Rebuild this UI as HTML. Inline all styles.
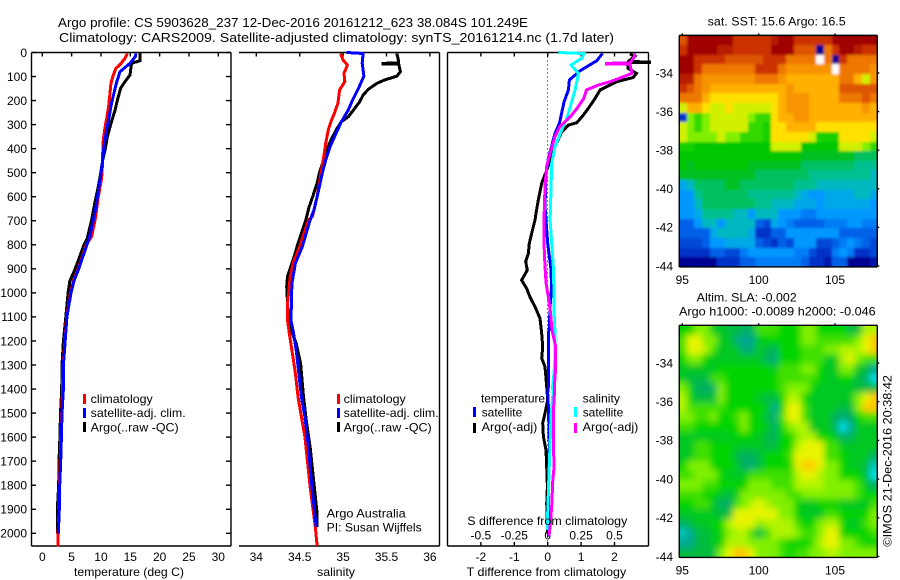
<!DOCTYPE html>
<html lang="en">
<head>
<meta charset="utf-8">
<title>Argo profile chart</title>
<style>
html,body{margin:0;padding:0;background:#fff;}
#chart{display:block;width:900px;height:580px;}
text{font-family:"Liberation Sans",Arial,sans-serif;font-size:12px;fill:#000;}
</style>
</head>
<body>
<svg id="chart" xmlns="http://www.w3.org/2000/svg" width="900" height="580" viewBox="0 0 900 580">
  <defs>
    <filter id="sst-smooth" filterUnits="userSpaceOnUse" x="660" y="15" width="240" height="275"><feGaussianBlur stdDeviation="1.2"/></filter>
    <filter id="sla-smooth" filterUnits="userSpaceOnUse" x="660" y="305" width="240" height="275"><feGaussianBlur stdDeviation="3.5"/></filter>
    <clipPath id="sst-clip"><rect x="679.3" y="35.3" width="198" height="231.7"/></clipPath>
    <clipPath id="sla-clip"><rect x="679.3" y="325.3" width="198" height="231.7"/></clipPath>
  </defs>
  <rect x="0" y="0" width="900" height="580" fill="#fff"/>
  <text x="58" y="27" textLength="470" lengthAdjust="spacingAndGlyphs" style="font-size:13px">Argo profile: CS 5903628_237 12-Dec-2016 20161212_623 38.084S 101.249E</text>
  <text x="59" y="42" textLength="555" lengthAdjust="spacingAndGlyphs" style="font-size:13px">Climatology: CARS2009. Satellite-adjusted climatology: synTS_20161214.nc (1.7d later)</text>

  <g id="marks"></g>

  <text x="74" y="576" textLength="110" lengthAdjust="spacingAndGlyphs">temperature (deg C)</text>
  <text x="317" y="576" textLength="38" lengthAdjust="spacingAndGlyphs">salinity</text>
  <text x="466.7" y="576" textLength="159.5" lengthAdjust="spacingAndGlyphs">T difference from climatology</text>
  <text x="467.3" y="525" textLength="160" lengthAdjust="spacingAndGlyphs">S difference from climatology</text>

  <g>
    <rect x="83" y="394" width="3" height="10" fill="#ff0000"/>
    <rect x="83" y="408" width="3" height="10" fill="#0000ff"/>
    <rect x="83" y="422" width="3" height="10" fill="#000"/>
    <text x="90.7" y="403" textLength="62" lengthAdjust="spacingAndGlyphs">climatology</text>
    <text x="90.7" y="417" textLength="95" lengthAdjust="spacingAndGlyphs">satellite-adj. clim.</text>
    <text x="90.7" y="431.5" textLength="88" lengthAdjust="spacingAndGlyphs">Argo(..raw -QC)</text>
  </g>
  <g>
    <rect x="337" y="394" width="3" height="10" fill="#ff0000"/>
    <rect x="337" y="408" width="3" height="10" fill="#0000ff"/>
    <rect x="337" y="422" width="3" height="10" fill="#000"/>
    <text x="343.7" y="403" textLength="62" lengthAdjust="spacingAndGlyphs">climatology</text>
    <text x="343.7" y="417" textLength="95" lengthAdjust="spacingAndGlyphs">satellite-adj. clim.</text>
    <text x="343.7" y="431.5" textLength="88" lengthAdjust="spacingAndGlyphs">Argo(..raw -QC)</text>
  </g>
  <text x="326.7" y="517.7" textLength="79" lengthAdjust="spacingAndGlyphs">Argo Australia</text>
  <text x="326.7" y="531.7" textLength="95" lengthAdjust="spacingAndGlyphs">PI: Susan Wijffels</text>

  <g>
    <text x="481" y="402.7" textLength="64" lengthAdjust="spacingAndGlyphs">temperature</text>
    <rect x="473" y="407" width="3" height="10" fill="#0000ff"/>
    <text x="481.7" y="416.7" textLength="40.6" lengthAdjust="spacingAndGlyphs">satellite</text>
    <rect x="473" y="423" width="3" height="10" fill="#000"/>
    <text x="481.7" y="431" textLength="55.6" lengthAdjust="spacingAndGlyphs">Argo(-adj)</text>
    <text x="582.7" y="402.7" textLength="37.3" lengthAdjust="spacingAndGlyphs">salinity</text>
    <rect x="574" y="407" width="3" height="10" fill="#00ffff"/>
    <text x="582.7" y="416.7" textLength="40.6" lengthAdjust="spacingAndGlyphs">satellite</text>
    <rect x="574" y="423" width="3" height="10" fill="#ff00ff"/>
    <text x="582.7" y="431" textLength="55.6" lengthAdjust="spacingAndGlyphs">Argo(-adj)</text>
  </g>

  <text x="707.7" y="25.7" textLength="138" lengthAdjust="spacingAndGlyphs">sat. SST: 15.6 Argo: 16.5</text>
  <text x="696.7" y="301.7" textLength="100" lengthAdjust="spacingAndGlyphs">Altim. SLA: -0.002</text>
  <text x="679" y="315.7" textLength="196.7" lengthAdjust="spacingAndGlyphs">Argo h1000: -0.0089 h2000: -0.046</text>
  <text transform="translate(891.7,546.7) rotate(-90)" textLength="171.7" lengthAdjust="spacingAndGlyphs">©IMOS 21-Dec-2016 20:38:42</text>
</svg>

<script>
// ---------- axis ticks ----------
const depthTicks = [0,100,200,300,400,500,600,700,800,900,1000,1100,1200,1300,1400,1500,1600,1700,1800,1900,2000];
const temperatureTicks = [0,5,10,15,20,25,30];
const salinityTicks = [34,34.5,35,35.5,36];
const salinityTickLabels = ['34','34.5','35','35.5','36'];
const tDiffTicks = [-2,-1,0,1,2];
const sDiffTicks = [-0.5,-0.25,0,0.25,0.5];
const sDiffTickLabels = ['-0.5','-0.25','0','0.25','0.5'];
const lonTicks = [95,100,105];
const latTicks = [-34,-36,-38,-40,-42,-44];

// ---------- temperature panel ----------
const tempClimDepth = [4,24,48,66,94,128,177,225,274,309,364,419,502,530,600,683,766,800,900,950,1000,1100,1200,1300,1400,1500,1600,1700,1800,1900,2000,2054];
const tempClimValues = [14.5,14.1,13.35,12.55,12.1,11.7,11.5,11.3,10.97,10.7,10.4,10.3,10.2,10.06,9.55,9.1,8.4,7.5,6.1,5.3,4.8,4.15,3.85,3.55,3.45,3.3,3.15,3.05,2.9,2.85,2.7,2.7];
const tempSatDepth = [4,17,45,80,121,170,211,267,322,392,447,502,558,641,697,773,800,900,950,1000,1100,1200,1300,1400,1500,1600,1700,1800,1900,2000];
const tempSatValues = [15.97,15.85,14.95,13.25,12.7,12.2,11.8,11.4,10.97,10.5,10.3,10,9.66,9.15,8.7,8,7.6,6.2,5.4,4.9,4.2,3.9,3.6,3.6,3.35,3.25,3.13,2.96,2.9,2.73];
const tempArgoDepth = [3,34,45,94,121,149,198,239,288,350,405,447,502,558,620,697,772,800,900,950,1000,1100,1200,1300,1400,1500,1600,1700,1800,1900,2000];
const tempArgoValues = [16.65,16.65,15.2,14.95,14.1,13.35,12.8,12.4,11.8,11.1,10.7,10.3,9.95,9.55,9,8.4,7.67,7.1,5.6,4.7,4.4,4,3.6,3.35,3.3,3.1,3,2.85,2.8,2.55,2.55];

// ---------- salinity panel ----------
const salClimDepth = [4,31,52,87,121,156,211,253,288,322,378,426,502,600,683,697,808,870,932,1044,1113,1169,1238,1335,1432,1515,1598,1806,1973,2052];
const salClimValues = [34.97,35,35.05,35.01,35.02,34.96,34.94,34.9,34.86,34.83,34.8,34.78,34.745,34.7,34.645,34.6,34.5,34.43,34.39,34.36,34.36,34.38,34.41,34.45,34.48,34.52,34.56,34.62,34.68,34.7];
const salSatDepth = [0,4,45,98,139,205,239,288,343,392,447,502,586,655,697,808,877,960,1113,1169,1238,1335,1432,1515,1640,1806,1973];
const salSatValues = [35.04,35.23,35.22,35.24,35.19,35.1,35.06,34.98,34.91,34.85,34.8,34.76,34.71,34.665,34.62,34.53,34.45,34.41,34.4,34.43,34.46,34.49,34.52,34.56,34.6,34.64,34.69];
const salArgoDepth = [4,38,44,45,47,48,80,98,114,128,153,177,205,239,267,288,316,357,405,454,496,544,600,641,697,794,857,932,974,1113,1155,1210,1293,1418,1515,1640,1778,1917,1973];
const salArgoValues = [35.62,35.64,35.64,35.46,35.46,35.64,35.66,35.62,35.48,35.39,35.29,35.23,35.19,35.12,35.06,34.98,34.93,34.87,34.81,34.77,34.73,34.7,34.65,34.61,34.57,34.48,34.43,34.36,34.35,34.37,34.4,34.46,34.51,34.54,34.57,34.62,34.66,34.7,34.7];

// ---------- difference panel ----------
const dtSatDepth = [4,34,76,114,156,205,295,336,440,502,641,697,794,891,974,1058,1141,1169,1390,1417,1473,1639,1750,2014];
const dtSatValues = [1.64,1.47,0.97,0.65,0.62,0.49,0.35,0.22,0.02,-0.05,-0.08,-0.05,0,0.09,0.12,0.07,0.05,0.02,0.02,0,0.02,0.05,0.02,0.02];
const dtArgoDepth = [6,15,38,39,41,42,66,87,104,121,156,191,232,260,292,302,330,392,489,544,614,669,697,752,794,836,870,905,947,982,1017,1058,1106,1169,1224,1272,1307,1390,1445,1501,1542,1598,1653,1722,1806,1875,1958,2000];
const dtArgoValues = [2.46,2.61,2.41,3.05,3.05,2.41,2.41,2.66,2.56,2.07,1.57,1.42,1.22,1.07,0.87,0.62,0.42,0.22,-0.03,-0.18,-0.28,-0.35,-0.38,-0.48,-0.55,-0.58,-0.66,-0.61,-0.78,-0.63,-0.53,-0.38,-0.23,-0.18,-0.15,-0.18,-0.08,-0.03,0,-0.08,-0.15,-0.13,-0.05,-0.03,-0.01,-0.03,-0.01,-0.01];
const dsSatDepth = [0,4,24,52,87,156,205,274,322,392,461,572,697,794,891,1003,1072,1169,1266,1335,1390,1417,1515,1639,1750,1917,1986];
const dsSatValues = [0.08,0.27,0.255,0.175,0.23,0.205,0.18,0.143,0.105,0.055,0.03,0.025,0.018,0.03,0.042,0.047,0.047,0.055,0.055,0.047,0.037,0.04,0.025,0.017,0.01,0,0];
const dsArgoDepth = [4,17,44,45,47,48,87,101,121,135,156,191,232,267,288,309,350,419,475,558,697,794,891,960,1017,1086,1155,1224,1307,1390,1417,1501,1625,1722,1778,1889,1972,2010];
const dsArgoValues = [0.65,0.65,0.615,0.44,0.44,0.615,0.63,0.565,0.47,0.38,0.29,0.27,0.22,0.17,0.13,0.09,0.055,0.018,-0.008,-0.02,-0.028,-0.028,-0.02,-0.012,0.005,0.022,0.032,0.06,0.06,0.05,0.05,0.042,0.042,0.048,0.038,0.03,0.018,0.01];

// ---------- sea surface temperature map (deg C, north to south) ----------
const sstRows = [
[19.5,21,21,21,21,21,21,20,20,20,20,20,20.5,21,21,20,20,20,20,20,21,21,21,21,21,21],
[20,21,21,21,21,20.5,20.5,20,20,20,20,20,21,21,21,19.5,19.5,19.5,9,19,20,21,21,20.5,20,20],
[21,21,20,20,20,20,19.5,19.5,19.5,19.5,19.5,20,20,20,19,19,19,19,null,19,9,20,19,19,19,19],
[21,21,20,19,19,19,19,19,19,19,20,20,20,19,18.5,18.5,18.5,18.5,18.5,18.5,null,19,19,19,19,18.5],
[20.5,20.5,19,18.5,18.5,18.5,18.5,18.5,18.5,18.5,19,19,19,18.5,18,18,18,18,18,18,18,19,19,18,17,18.5],
[20,19.5,19,18.5,18,18,18,18,18,18,18,18,18,18,18.5,18,18,18,18,18,18,19.5,19.5,19.5,19.5,19.5],
[19,19,19,18,17.5,17.5,17.5,17.5,17.5,17.5,17.5,17.5,17.5,18,18.5,18.5,18.5,18,18,18,18,19,19,19,19.5,19],
[17,18,18,17.5,17,17,17.5,17,17,17,17,17,17.5,18,18.5,18.5,18.5,18,18,18,18,18,18,18,18.5,18],
[10,16.5,16,16.5,17,17,17,17,17,16.5,16,16,17.5,18,18,18.5,18.5,18,18,18,18,18,18,18,18,18],
[17,16.5,16,16.5,17,17,17,17,17,16,16,15.5,17.5,17.5,18,18,18,18,17.5,17.5,17.5,17.5,17.5,17.5,17.5,17.5],
[17,16.5,16.5,16.5,16.5,17,16.5,16.5,16,16,16,15.5,17.5,17.5,17.5,17.5,17.5,17,15.5,15.5,15.5,17.5,17.5,17.5,17.5,17],
[15.5,15.5,15,15,15,15,15,15,15,15,15,15,17,17,17,17,15,15,15,15,15,17,17,17,16.5,16],
[15,15,15,15,15,15,15,15,15,15,15,15,15,15,15,15,14.5,14.5,14.5,14.5,14.5,14.5,14.5,14,14,14],
[15,14.5,15,15,15,15,15,15,15,14.5,14.5,14.5,14.5,14.5,14.5,14.5,14,14,14,14,14,14,14,13.5,13.5,13.5],
[14.5,14.5,14.5,14.5,14.5,14.5,14.5,14.5,14.5,14.5,14,14,14,14,14,14,14,13.5,13.5,13.5,13.5,13.5,13.5,13.5,13.5,13],
[12.5,13,14,14,14,14,14.5,14.5,14,14,14,14,14,14,14,13.5,13.5,13.5,13,13,13,13,13,13,13,13],
[12,12,13.5,14,14,14,14,14,14,13.5,13.5,13.5,13.5,13.5,13.5,13,12.5,12,12,12.5,12.5,12.5,12.5,13,13,12.5],
[12,12,13,14,14,14,14,14,14,14,13.5,13.5,13,13,13,12.5,12.5,12.5,12,12.5,12.5,12.5,12.5,12.5,12.5,12],
[12,12,12.5,13.5,13.5,13.5,13.5,13,13,12,13,13,13,12,12,12,11.5,11.5,12,12,12,12,12,12,12,12],
[11,11,12,13,13,12,13,13,13,13,11,10.5,12.5,12,11.5,11,11,11,11,11.5,11.5,11.5,12,12,11.5,11.5],
[11,11,11,11,12.5,13,13,13,13,12.5,10,10,11,11,12,12,12,12,12,12,12,11,11,11,11,11],
[10.5,10.5,10.5,11,12,12,12.5,12.5,12.5,12.5,11,10.5,10,11,10.5,12,12,12,10.5,10.5,11,11.5,12,11.5,11,10.5],
[10,10,10,10,11,11,10.5,10.5,11.5,12,12,12,12,12,12,11.5,11.5,10.5,10,10,11.5,12,11.5,10,10,10.5],
[9,9,9,9,9,10,10,10,11,11,11.5,11.5,11.5,11.5,11.5,11.5,11,10,10,9.5,11,11,9,9,9,9.5]
];

// ---------- sea level anomaly map (cm, north to south) ----------
const slaRows = [
[-1,-1,1,1,-2,-2,-3,-3,-4,-4,0,0,0,-1,-1,-1,1,1,-1,-1,-1,-1,-3,-3,2,2],
[0,3,3,1,1,-2,-2,-5,-6,-6,-2,-1,-1,-1,-1,-1,1,1,0,0,0,0,0,1,3,4],
[0,3,3,2,0,-2,-2,-2,-5,-5,-2,-3,-4,-1,-1,-1,0,0,0,1,1,2,2,2,3,4],
[-1,1,1,-1,-2,-2,-2,-2,-2,-2,-2,-4,-5,-1,-1,-1,0,0,0,-2,-2,2,3,1,0,0],
[-2,-2,-2,-2,-2,-1,-1,-1,-1,-1,-1,-1,-2,0,0,0,1,1,-1,-2,-2,1,1,-2,-3,-6],
[-2,-3,-3,-3,0,0,-1,-1,-1,-1,-1,-1,-1,0,0,0,0,0,-1,-2,-2,-1,-1,-3,-4,-8],
[1,-1,-4,-4,-4,1,-1,-1,-1,-1,-1,-1,-1,0,1,1,1,-1,-2,-2,-2,-2,-2,-3,-3,-3],
[2,-1,-3,-3,-3,1,-1,-1,-1,-1,-2,-3,-3,-1,2,2,-1,-2,-2,-2,-2,-2,-2,1,3,4],
[2,0,0,0,0,0,-1,-1,-1,-1,-1,-2,-6,-1,3,3,0,-2,-2,-2,-2,-3,-3,1,4,4],
[1,1,0,0,1,-1,-1,0,1,-1,-1,-3,-5,0,3,3,0,-2,-2,-2,-4,-5,-4,-1,0,0],
[0,0,-1,-1,-1,-1,-1,-1,1,-1,-1,-2,-4,-1,1,2,2,-2,-2,-2,-4,-8,-6,-2,-2,-2],
[-2,-2,-2,-2,-2,-2,-2,-1,-1,-1,-2,-3,-4,-1,-1,1,2,2,-1,-1,-2,-4,-4,-2,-2,-2],
[-2,-2,0,0,-1,-1,-1,-2,-2,-2,-2,-3,-3,-1,-1,2,3,3,3,0,0,-2,-2,-2,-2,-2],
[-2,-2,0,0,-1,-1,-1,-3,-4,-4,-3,-1,-1,-1,0,3,3,3,3,0,0,-1,-2,-2,-2,-4],
[-1,1,1,1,-1,-1,-1,-2,-4,-5,-3,-1,-1,-1,-1,3,4,4,3,1,1,-1,-2,-2,-3,-7],
[0,0,1,1,1,-1,-2,-2,-2,0,0,0,0,0,0,2,3,3,2,1,1,-1,-1,-1,-3,-8],
[1,1,1,0,0,-1,-1,-1,-1,1,1,1,0,0,0,2,2,2,2,1,1,1,1,0,-2,-4],
[0,0,0,-1,-1,-2,-3,-2,1,1,1,1,1,1,0,0,1,1,1,1,1,1,1,0,-1,-1],
[-1,-1,0,0,-2,-4,-4,0,1,2,3,2,1,1,1,-1,-2,-2,-1,-1,-1,-2,-2,-2,-2,0],
[-2,-2,-2,-2,-2,-3,-3,3,3,3,3,3,3,1,1,-1,-2,-2,-2,0,0,-1,-1,-1,-1,1],
[-4,-3,-2,-2,-1,-1,2,3,3,3,1,2,2,2,2,0,-1,-1,1,2,2,-1,-2,-2,0,1],
[-7,-6,-3,-3,-2,-1,1,2,2,0,-3,0,2,2,2,1,0,0,1,3,3,-1,-1,-1,-1,0],
[-6,-6,-3,-3,-2,-1,2,2,2,1,1,1,1,0,-1,-1,-1,0,2,3,3,1,1,0,-1,-1],
[-3,-3,-3,-3,-3,1,3,4,4,3,1,1,1,0,-1,0,0,1,1,2,2,1,1,1,1,1]
];

// ---------- colour scales ----------
const sstScaleValues = [9,10,11,12,12.5,13,13.5,14,14.5,15,16,16.5,17,17.5,18,19,20,21];
const sstScaleColors = ['#000090','#0030c8','#0060e8','#0098ff','#00a8e8','#00b8c0','#00c090','#00c060','#00c020','#00c800','#30d800','#80f000','#d0f000','#ffe000','#ffb000','#ee7700','#cc3300','#a00000'];
const slaScaleValues = [-8,-6,-4,-2,-1,0,1,2,3,4];
const slaScaleColors = ['#00e0e8','#00a890','#00b060','#00c820','#00d400','#40e000','#80f000','#b0f400','#e8f400','#ffc800'];

// ---------- axis functions ----------
const SVGNS = 'http://www.w3.org/2000/svg';
const marks = document.getElementById('marks');
function yDepth(d){ return 52.5 + 0.2404 * d; }
function xTemp(t){ return 42.3 + 5.867 * t; }
function xSal(s){ return 256.3 + 86.8 * (s - 34); }
function xTDiff(t){ return 547.7 + 33.4 * t; }
function xSDiff(s){ return 547.7 + 133.6 * s; }
function xLon(lon){ return 682.3 + 15.27 * (lon - 95); }
function yLatTop(lat){ return 73 + 19.3 * (-34 - lat); }
function yLatBottom(lat){ return 363 + 19.35 * (-34 - lat); }

function make(tag, geometry, parent){
  const el = document.createElementNS(SVGNS, tag);
  for (const k in geometry) el.setAttribute(k, geometry[k]);
  (parent || marks).appendChild(el);
  return el;
}
function rule(x1, y1, x2, y2, name){
  const el = make('line', {x1:x1, y1:y1, x2:x2, y2:y2, stroke:'#000', 'stroke-width':1.4});
  
  
  return el;
}
function label(x, y, str, anchor, name){
  const el = make('text', {x:x, y:y, 'text-anchor':anchor});
  el.textContent = str;
  
  
  return el;
}
function profile(depths, values, xFn, color, name){
  const pts = depths.map(function(d, i){ return xFn(values[i]).toFixed(1) + ',' + yDepth(d).toFixed(1); }).join(' ');
  const el = make('polyline', {points:pts, fill:'none', stroke:color, 'stroke-width':3, 'stroke-linejoin':'miter', 'shape-rendering':'crispEdges'});
  
  
  return el;
}
function hexToRgb(h){ return [parseInt(h.substr(1,2),16), parseInt(h.substr(3,2),16), parseInt(h.substr(5,2),16)]; }
function scaleColor(v, domain, colors){
  if (v <= domain[0]) return colors[0];
  for (let i = 1; i < domain.length; i++){
    if (v <= domain[i]){
      const f = (v - domain[i-1]) / (domain[i] - domain[i-1]);
      const a = hexToRgb(colors[i-1]), b = hexToRgb(colors[i]);
      return 'rgb(' + a.map(function(c, k){ return Math.round(c + (b[k] - c) * f); }).join(',') + ')';
    }
  }
  return colors[colors.length - 1];
}

// ---------- profile panels: frames and ticks ----------
const plotTop = yDepth(0);
const plotBottom = 546;

// temperature panel
rule(31.5, plotTop, 231, plotTop, 'temperature-panel-top-edge');
rule(31.5, plotBottom, 231, plotBottom, 'temperature-panel-bottom-edge');
rule(31.5, plotTop, 31.5, plotBottom, 'temperature-panel-left-edge');
rule(231, plotTop, 231, plotBottom, 'temperature-panel-right-edge');
depthTicks.forEach(function(d){
  rule(31.5, yDepth(d), 36, yDepth(d), 'depth-tick-left');
  rule(226, yDepth(d), 231, yDepth(d), 'depth-tick-right');
  label(27, yDepth(d) + 4.3, String(d), 'end', 'depth-tick-label');
});
temperatureTicks.forEach(function(t){
  rule(xTemp(t), plotTop, xTemp(t), plotTop + 4, 'temperature-tick');
  label(xTemp(t), 561, String(t), 'middle', 'temperature-tick-label');
});

// salinity panel
rule(239, plotTop, 439.5, plotTop, 'salinity-panel-top-edge');
rule(239, plotBottom, 439.5, plotBottom, 'salinity-panel-bottom-edge');
rule(439.5, plotTop, 439.5, plotBottom, 'salinity-panel-right-edge');
salinityTicks.forEach(function(s, i){
  rule(xSal(s), plotTop, xSal(s), plotTop + 4, 'salinity-tick');
  label(xSal(s), 561, salinityTickLabels[i], 'middle', 'salinity-tick-label');
});

// difference panel
const zeroLine = make('line', {x1:xTDiff(0), y1:plotTop, x2:xTDiff(0), y2:plotBottom, stroke:'#000', 'stroke-width':1, 'stroke-dasharray':'1 3', 'shape-rendering':'crispEdges'});


rule(447.5, plotTop, 648.5, plotTop, 'difference-panel-top-edge');
rule(447.5, plotBottom, 648.5, plotBottom, 'difference-panel-bottom-edge');
rule(447.5, plotTop, 447.5, plotBottom, 'difference-panel-left-edge');
rule(648.5, plotTop, 648.5, plotBottom, 'difference-panel-right-edge');
tDiffTicks.forEach(function(t){
  rule(xTDiff(t), plotTop, xTDiff(t), plotTop + 4, 'difference-tick-top');
  rule(xTDiff(t), plotBottom - 4, xTDiff(t), plotBottom, 'difference-tick-bottom');
  label(xTDiff(t), 561, String(t), 'middle', 't-difference-tick-label');
});
sDiffTicks.forEach(function(s, i){
  label(xSDiff(s), 539.3, sDiffTickLabels[i], 'middle', 's-difference-tick-label');
});

// ---------- profile series ----------
profile(tempArgoDepth, tempArgoValues, xTemp, '#000000', 'temperature-argo-line');
profile(tempClimDepth, tempClimValues, xTemp, '#ff0000', 'temperature-climatology-line');
profile(tempSatDepth, tempSatValues, xTemp, '#0000ff', 'temperature-satellite-line');

profile(salArgoDepth, salArgoValues, xSal, '#000000', 'salinity-argo-line');
profile(salClimDepth, salClimValues, xSal, '#ff0000', 'salinity-climatology-line');
profile(salSatDepth, salSatValues, xSal, '#0000ff', 'salinity-satellite-line');

profile(dtArgoDepth, dtArgoValues, xTDiff, '#000000', 't-difference-argo-line');
profile(dtSatDepth, dtSatValues, xTDiff, '#0000ff', 't-difference-satellite-line');
profile(dsSatDepth, dsSatValues, xSDiff, '#00ffff', 's-difference-satellite-line');
profile(dsArgoDepth, dsArgoValues, xSDiff, '#ff00ff', 's-difference-argo-line');

// ---------- maps ----------
const mapLonWest = 94.8;
const mapLonEast = 107.77;
const mapLatNorth = -32.05;
const mapLatSouth = -44.05;
const mapBleed = 12;

function drawMap(rows, yFn, domain, colors, name, clipId, filterId){
  const clipGroup = make('g', {'clip-path':'url(#' + clipId + ')'});
  
  
  const cellGroup = make('g', {filter:'url(#' + filterId + ')'}, clipGroup);
  
  
  const nRows = rows.length;
  const dLat = (mapLatNorth - mapLatSouth) / nRows;
  rows.forEach(function(row, r){
    const dLon = (mapLonEast - mapLonWest) / row.length;
    row.forEach(function(v, c){
      let x0 = Math.round(xLon(mapLonWest + c * dLon));
      let x1 = Math.round(xLon(mapLonWest + (c + 1) * dLon));
      let y0 = Math.round(yFn(mapLatNorth - r * dLat));
      let y1 = Math.round(yFn(mapLatNorth - (r + 1) * dLat));
      if (c === 0) x0 -= mapBleed;
      if (c === row.length - 1) x1 += mapBleed;
      if (r === 0) y0 -= mapBleed;
      if (r === nRows - 1) y1 += mapBleed;
      const fill = v === null ? '#ffffff' : scaleColor(v, domain, colors);
      const cell = make('rect', {x:x0, y:y0, width:x1 - x0, height:y1 - y0, fill:fill, 'shape-rendering':'crispEdges'}, cellGroup);
      
      
    });
  });
}
function drawMapFrame(yFn, prefix){
  const l = xLon(mapLonWest), r = xLon(mapLonEast), t = yFn(mapLatNorth), b = yFn(mapLatSouth);
  rule(l, t, r, t, prefix + '-map-top-edge');
  rule(l, b, r, b, prefix + '-map-bottom-edge');
  rule(l, t, l, b, prefix + '-map-left-edge');
  rule(r, t, r, b, prefix + '-map-right-edge');
  lonTicks.forEach(function(lon){
    rule(xLon(lon), t - 2, xLon(lon), t, prefix + '-longitude-tick');
    label(xLon(lon), b + 17, String(lon), 'middle', prefix + '-longitude-label');
  });
  latTicks.forEach(function(lat){
    rule(r, yFn(lat), r + 2, yFn(lat), prefix + '-latitude-tick');
    label(673, yFn(lat) + 4.3, String(lat), 'end', prefix + '-latitude-label');
  });
}
drawMap(sstRows, yLatTop, sstScaleValues, sstScaleColors, 'sst', 'sst-clip', 'sst-smooth');
drawMapFrame(yLatTop, 'sst');
drawMap(slaRows, yLatBottom, slaScaleValues, slaScaleColors, 'sla', 'sla-clip', 'sla-smooth');
drawMapFrame(yLatBottom, 'sla');
</script>
</body>
</html>
